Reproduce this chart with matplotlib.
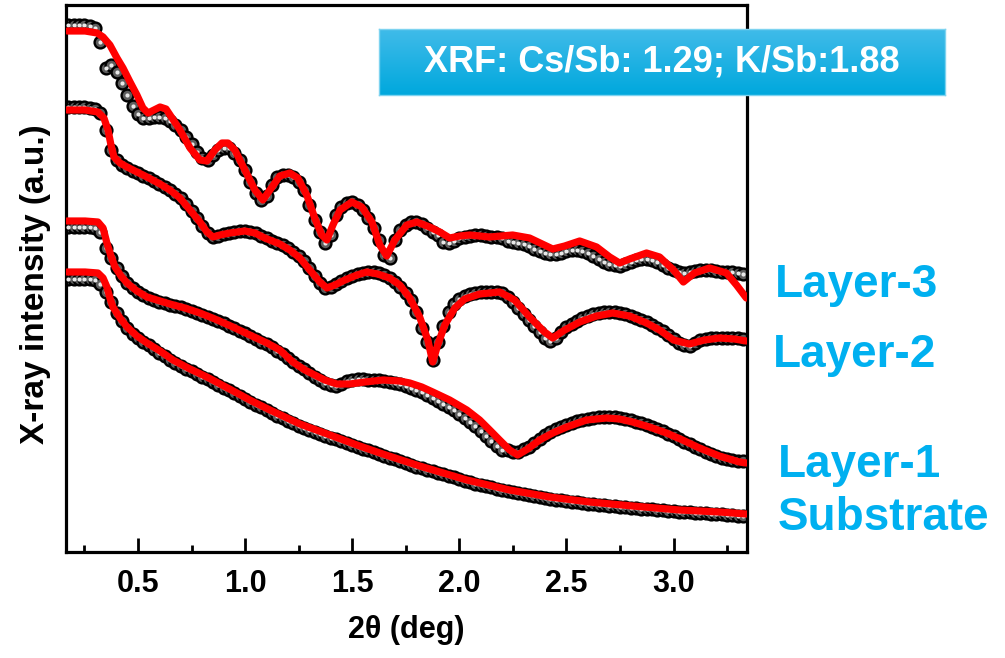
import numpy as np
import matplotlib
matplotlib.use("Agg")
import matplotlib.pyplot as plt
from matplotlib.ticker import MultipleLocator

# scan grid (2theta, deg)
theta_scan = np.linspace(0.175, 3.325, 127)

# measured reflectivity, arbitrary units (curves offset for clarity)
obs_layer3 = [527, 527, 527, 527, 526, 524, 510, 484, 487, 480,
              469, 457, 446, 438, 434, 434, 435, 435, 434, 431,
              427, 422, 415, 408, 400, 394, 392, 397, 402, 404,
              404, 399, 392, 382, 370, 359, 352, 356, 367, 375,
              377, 377, 375, 370, 362, 347, 332, 320, 309, 317,
              337, 345, 349, 350, 347, 342, 334, 324, 312, 297,
              294, 312, 322, 327, 330, 330, 328, 324, 320, 317,
              310, 309, 311, 314, 315, 316, 317, 317, 316, 315,
              315, 314, 311, 310, 309, 308, 306, 303, 301, 299,
              298, 298, 299, 301, 302, 302, 301, 299, 296, 293,
              290, 288, 287, 286, 288, 290, 292, 293, 293, 292,
              290, 287, 284, 282, 280, 279, 280, 281, 282, 282,
              282, 281, 280, 280, 280, 279, 278]
obs_layer2 = [445, 445, 445, 445, 444, 443, 439, 422, 402, 392,
              387, 384, 381, 379, 376, 374, 371, 368, 365, 362,
              358, 354, 348, 341, 334, 326, 319, 315, 316, 318,
              319, 320, 321, 321, 320, 319, 316, 314, 311, 309,
              307, 304, 300, 296, 291, 284, 276, 269, 264, 265,
              268, 271, 274, 276, 278, 279, 280, 280, 279, 277,
              274, 270, 265, 259, 252, 240, 224, 210, 192, 210,
              226, 240, 248, 253, 256, 258, 259, 260, 260, 260,
              260, 259, 255, 250, 244, 238, 232, 226, 220, 214,
              211, 214, 220, 225, 228, 231, 234, 236, 238, 239,
              240, 240, 240, 239, 238, 236, 234, 232, 230, 227,
              224, 221, 217, 213, 209, 207, 206, 209, 212, 213,
              214, 214, 214, 214, 214, 214, 213]
obs_layer1 = [325, 325, 325, 325, 325, 324, 320, 304, 294, 284,
              276, 269, 264, 260, 257, 254, 252, 250, 249, 247,
              246, 245, 243, 241, 239, 237, 235, 233, 231, 229,
              226, 224, 221, 219, 216, 213, 210, 208, 205, 201,
              198, 194, 190, 186, 183, 179, 175, 172, 169, 167,
              166, 168, 171, 172, 173, 173, 172, 172, 172, 171,
              170, 169, 168, 166, 164, 162, 160, 157, 154, 151,
              148, 145, 142, 138, 134, 130, 126, 121, 116, 111,
              106, 102, 102, 100, 100, 103, 105, 109, 113, 117,
              120, 123, 125, 127, 129, 131, 132, 133, 134, 135,
              135, 135, 135, 134, 133, 132, 130, 129, 127, 125,
              123, 121, 118, 116, 113, 110, 108, 105, 103, 100,
              98, 96, 94, 93, 92, 91, 91]
obs_substrate = [273, 273, 273, 273, 273, 272, 268, 260, 250, 239,
                 231, 224, 218, 214, 210, 207, 203, 199, 196, 192,
                 189, 186, 183, 181, 178, 175, 173, 170, 167, 164,
                 162, 159, 156, 153, 150, 147, 145, 142, 139, 136,
                 134, 131, 129, 126, 124, 122, 120, 118, 116, 114,
                 113, 111, 109, 107, 105, 103, 102, 100, 98, 96,
                 94, 93, 91, 89, 87, 85, 84, 82, 81, 79,
                 78, 76, 75, 73, 71, 70, 68, 67, 66, 65,
                 63, 62, 61, 60, 59, 58, 57, 56, 55, 54,
                 53, 52, 52, 51, 50, 50, 49, 48, 48, 47,
                 47, 46, 46, 45, 45, 44, 44, 43, 43, 43,
                 42, 42, 41, 41, 40, 40, 40, 39, 39, 39,
                 38, 38, 38, 37, 37, 36, 36]

# model fits
fit3_x = [0.17, 0.253, 0.309, 0.337, 0.369, 0.402, 0.430, 0.463, 0.495, 0.523,
          0.547, 0.575, 0.603, 0.631, 0.659, 0.696, 0.743, 0.789, 0.822, 0.859,
          0.892, 0.920, 0.952, 0.999, 1.046, 1.083, 1.116, 1.162, 1.209, 1.246,
          1.288, 1.325, 1.358, 1.382, 1.410, 1.443, 1.498, 1.545, 1.592, 1.629,
          1.661, 1.699, 1.755, 1.801, 1.862, 1.909, 1.955, 2.002, 2.049, 2.142,
          2.249, 2.328, 2.436, 2.492, 2.562, 2.641, 2.702, 2.748, 2.795, 2.874,
          2.935, 3.0, 3.046, 3.098, 3.168, 3.247, 3.294, 3.340]
fit3_y = [521, 521, 519, 515, 507, 494, 484, 470, 457, 444,
          439, 442, 445, 443, 434, 422, 404, 392, 391, 402,
          409, 409, 402, 382, 362, 352, 362, 376, 379, 374,
          357, 334, 317, 312, 327, 342, 350, 345, 330, 307,
          296, 312, 327, 330, 325, 320, 314, 316, 317, 315,
          317, 314, 303, 306, 311, 305, 295, 289, 293, 299,
          295, 282, 270, 279, 284, 279, 267, 254]

fit2_x = [0.169, 0.253, 0.313, 0.341, 0.360, 0.374, 0.388, 0.416, 0.449, 0.495,
          0.542, 0.603, 0.649, 0.696, 0.743, 0.789, 0.822, 0.850, 0.883, 0.929,
          0.999, 1.046, 1.092, 1.162, 1.209, 1.256, 1.302, 1.349, 1.382, 1.419,
          1.466, 1.522, 1.568, 1.619, 1.675, 1.722, 1.769, 1.815, 1.853, 1.876,
          1.899, 1.932, 1.979, 2.025, 2.095, 2.188, 2.258, 2.328, 2.398, 2.436,
          2.492, 2.562, 2.641, 2.716, 2.795, 2.874, 2.935, 3.0, 3.074, 3.144,
          3.214, 3.284, 3.340]
fit2_y = [442, 442, 440, 434, 422, 407, 395, 389, 385, 380,
          375, 368, 362, 354, 342, 330, 320, 315, 317, 319,
          321, 319, 314, 308, 302, 294, 282, 270, 264, 267,
          272, 277, 280, 278, 274, 267, 254, 235, 212, 190,
          207, 227, 244, 253, 258, 260, 252, 235, 220, 214,
          222, 230, 236, 239, 236, 229, 222, 212, 208, 212,
          214, 213, 211]

fit1_x = [0.169, 0.253, 0.313, 0.337, 0.355, 0.374, 0.393, 0.421, 0.449, 0.495,
          0.542, 0.603, 0.649, 0.719, 0.789, 0.859, 0.943, 1.022, 1.102, 1.162,
          1.223, 1.279, 1.325, 1.372, 1.428, 1.489, 1.559, 1.643, 1.722, 1.769,
          1.825, 1.876, 1.955, 2.035, 2.095, 2.142, 2.188, 2.235, 2.272, 2.319,
          2.375, 2.436, 2.501, 2.594, 2.688, 2.748, 2.809, 2.888, 2.967, 3.042,
          3.121, 3.214, 3.308, 3.340]
fit1_y = [331, 331, 330, 324, 309, 296, 285, 276, 269, 261,
          255, 251, 248, 244, 239, 233, 225, 217, 209, 202,
          190, 182, 177, 172, 168, 168, 170, 172, 171, 169,
          165, 160, 152, 142, 132, 122, 112, 102, 97, 103,
          112, 119, 125, 132, 134, 133, 130, 125, 119, 112,
          104, 96, 90, 89]

fitS_x = [0.169, 0.253, 0.313, 0.337, 0.355, 0.369, 0.383, 0.416, 0.449, 0.495,
          0.542, 0.603, 0.663, 0.743, 0.822, 0.892, 0.962, 1.022, 1.116, 1.256,
          1.396, 1.535, 1.643, 1.815, 2.035, 2.235, 2.422, 2.608, 2.809, 3.028,
          3.214, 3.340]
fitS_y = [280, 280, 279, 274, 265, 254, 245, 234, 225, 216,
          209, 201, 192, 183, 175, 167, 159, 152, 142, 128,
          117, 106, 98, 86, 72, 62, 55, 50, 46, 42,
          40, 38]

layer_names = ["Layer-3", "Layer-2", "Layer-1", "Substrate"]
xtick_vals = [0.5, 1.0, 1.5, 2.0, 2.5, 3.0]

plt.rcParams["font.family"] = ["Liberation Sans", "DejaVu Sans"]

fig = plt.figure(figsize=(10.05, 6.58), dpi=100)
ax = fig.add_axes([66 / 1005, 1 - 552 / 658, 681 / 1005, 547 / 658])

curves = [(obs_layer3, fit3_x, fit3_y), (obs_layer2, fit2_x, fit2_y),
          (obs_layer1, fit1_x, fit1_y), (obs_substrate, fitS_x, fitS_y)]
for obs, fx, fy in curves:
    ax.plot(theta_scan, obs, "o", ms=8.5, mfc="#5e5e5e", mec="black", mew=1.7, zorder=2)
    ax.plot(theta_scan, obs, "o", ms=3.0, mfc="#e8e8e8", mec="none", zorder=3)
    ax.plot(fx, fy, "-", color="#ff0000", lw=5.2, solid_joinstyle="round",
            solid_capstyle="round", zorder=4)

ax.set_xlim(0.164, 3.343)
ax.set_ylim(0, 547)
ax.set_yticks([])
ax.set_xticks(xtick_vals)
ax.xaxis.set_minor_locator(MultipleLocator(0.25))
ax.tick_params(axis="x", which="major", direction="in", length=10, width=2, pad=12)
ax.tick_params(axis="x", which="minor", direction="in", length=5, width=2)
for lab in ax.get_xticklabels():
    lab.set_fontsize(22)
    lab.set_fontweight("bold")
for sp in ax.spines.values():
    sp.set_linewidth(2.3)

ax.set_xlabel("2θ (deg)", fontsize=22, fontweight="bold", labelpad=12)
ax.set_ylabel("X-ray intensity (a.u.)", fontsize=24, fontweight="bold")
ax.yaxis.set_label_coords(-0.022, 0.49)

# layer labels to the right of the plot
label_pos = [(775, 297), (773, 367), (778, 477), (778, 530)]
for name, (px, py) in zip(layer_names, label_pos):
    fig.text(px / 1005, 1 - py / 658, name, color="#00b0f0", fontsize=33,
             fontweight="bold", ha="left", va="baseline")

# composition box with vertical gradient
box = fig.add_axes([379 / 1005, 1 - 95 / 658, 566 / 1005, 66 / 658])
grad = np.linspace(0, 1, 64).reshape(-1, 1)
top_c = np.array([0x40, 0xbb, 0xe9]) / 255
bot_c = np.array([0x00, 0xa8, 0xdd]) / 255
img = top_c + (bot_c - top_c) * grad[:, :, None]
box.imshow(img, aspect="auto", extent=(0, 1, 0, 1))
box.set_xticks([])
box.set_yticks([])
for sp in box.spines.values():
    sp.set_color("#7dd3f0")
    sp.set_linewidth(1)
box.text(0.5, 0.5, "XRF: Cs/Sb: 1.29; K/Sb:1.88", color="white", fontsize=26,
         fontweight="bold", ha="center", va="center", transform=box.transAxes)

fig.savefig("out.png", dpi=100)
